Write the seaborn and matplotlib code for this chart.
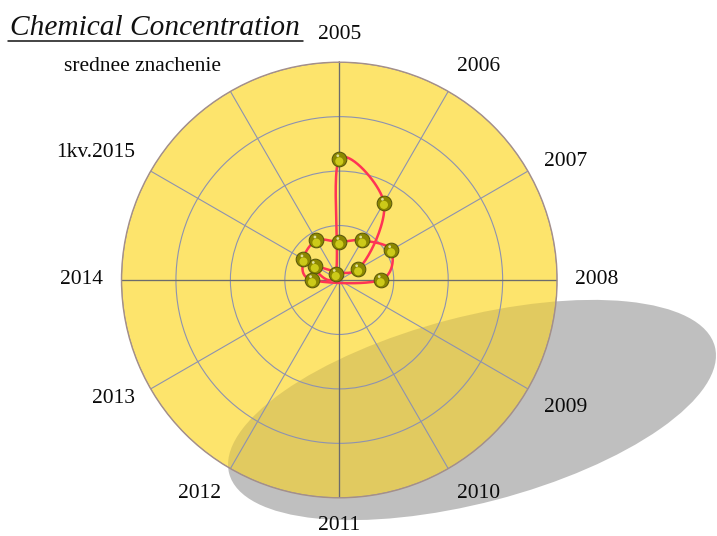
import numpy as np
import pandas as pd
import matplotlib
matplotlib.use("Agg")
import matplotlib.pyplot as plt
import matplotlib.transforms as mtransforms
from matplotlib.patches import Ellipse
from matplotlib.lines import Line2D
import seaborn as sns

# ---------------- data ----------------
categories = ["2005", "2006", "2007", "2008", "2009", "2010", "2011",
              "2012", "2013", "2014", "1kv.2015", "srednee znachenie"]
nan = np.nan
series_a = [111, 82, 20, nan, nan, nan, nan, nan, nan, nan, 26, 6.5]
series_b = [35, 42, 55, 38, nan, nan, nan, nan, nan, 25, 38, 42]
ring_values = [50, 100, 150, 200]
r_max = 200
title_text = "Chemical Concentration"

# ---------------- style ----------------
sns.set_style("white")
plt.rcParams["font.family"] = ["Liberation Serif", "DejaVu Serif"]

W, H = 717, 536
fig = plt.figure(figsize=(W / 100, H / 100), dpi=100)

# background axes (pixel space, y up) for the cast shadow
ax_bg = fig.add_axes([0, 0, 1, 1], zorder=-5)
ax_bg.set_xlim(0, W)
ax_bg.set_ylim(0, H)
ax_bg.axis("off")
shadow_center = (472, H - 410)
shadow_w, shadow_h, shadow_ang = 502, 186, 14.65
ax_bg.add_patch(Ellipse(shadow_center, shadow_w, shadow_h, angle=shadow_ang,
                        facecolor="#bfbfbf", edgecolor="none"))

# polar axes
cx, cy, R = 339.3, 280.0, 217.8
ax = fig.add_axes([(cx - R) / W, (H - cy - R) / H, 2 * R / W, 2 * R / H],
                  projection="polar")
ax.set_theta_zero_location("N")
ax.set_theta_direction(-1)
ax.set_facecolor("#fde46c")
n = len(categories)
angles = np.arange(n) * 2 * np.pi / n
ax.set_xticks(angles)
ax.set_xticklabels([])
ax.set_yticks(ring_values)
ax.set_yticklabels([])
ax.set_ylim(0, r_max)
ax.grid(True, color="#8d92b0", linewidth=0.8)
ax.set_axisbelow(True)
ax.spines["polar"].set_color("#a48f8a")
ax.spines["polar"].set_linewidth(1.0)
for a in angles[::3]:
    ax.axvline(a, color="#6c6c6c", linewidth=0.9, zorder=1)

# shadow overlay on the disc (clipped to the disc)
overlay = Ellipse(shadow_center, shadow_w, shadow_h, angle=shadow_ang,
                  facecolor="black", alpha=0.11, edgecolor="none",
                  transform=ax_bg.transData, zorder=0.3)
ax.add_artist(overlay)


def closed_catmull_rom(theta, r, steps=40):
    x = r * np.sin(theta)
    y = r * np.cos(theta)
    P = np.column_stack([x, y])
    m = len(P)
    out = []
    t = np.linspace(0, 1, steps, endpoint=False)[:, None]
    for i in range(m):
        p0, p1, p2, p3 = P[i - 1], P[i], P[(i + 1) % m], P[(i + 2) % m]
        seg = 0.5 * ((2 * p1) + (-p0 + p2) * t +
                     (2 * p0 - 5 * p1 + 4 * p2 - p3) * t ** 2 +
                     (-p0 + 3 * p1 - 3 * p2 + p3) * t ** 3)
        out.append(seg)
    out.append(P[:1])
    C = np.vstack(out)
    return np.arctan2(C[:, 0], C[:, 1]), np.hypot(C[:, 0], C[:, 1])


frames = []
for name, vals in (("A", series_a), ("B", series_b)):
    df = pd.DataFrame({"category": categories, "theta": angles,
                       "value": vals, "series": name}).dropna()
    frames.append(df)
    th, rr = closed_catmull_rom(df["theta"].to_numpy(), df["value"].to_numpy())
    ax.plot(th, rr, color="#ff3355", linewidth=1.8, zorder=3,
            solid_joinstyle="round")

data = pd.concat(frames, ignore_index=True)
sns.scatterplot(data=data, x="theta", y="value", ax=ax, s=112,
                color="#8c8800", edgecolor="#55530a", linewidth=0.7,
                legend=False, zorder=4, clip_on=False)
hl = mtransforms.offset_copy(ax.transData, fig=fig, x=0, y=-2.2, units="dots")
ax.scatter(data["theta"], data["value"], s=34, color="#d8d61e",
           edgecolor="none", alpha=0.85, transform=hl, zorder=5)
hl2 = mtransforms.offset_copy(ax.transData, fig=fig, x=-1.5, y=3.4, units="dots")
ax.scatter(data["theta"], data["value"], s=4, color="#f4f4c0",
           edgecolor="none", alpha=0.8, transform=hl2, zorder=6)
ax.set_xlabel("")
ax.set_ylabel("")

# category labels
label_r = r_max * 236 / R
va_override = {2: "center", 8: "center"}
for i, (lab, a) in enumerate(zip(categories, angles)):
    s, c = np.sin(a), np.cos(a)
    ha = "left" if s > 0.1 else ("right" if s < -0.1 else "center")
    va = "bottom" if c > 0.1 else ("top" if c < -0.1 else "center")
    va = va_override.get(i, va)
    ax.text(a, label_r, lab, ha=ha, va=va, fontsize=15.5, color="#0a0a0a",
            clip_on=False)

# title with underline
t = fig.text(10 / W, (H - 35) / H, title_text, fontsize=21.2, style="italic",
             ha="left", va="baseline", color="#111111")
fig.canvas.draw()
bb = t.get_window_extent(fig.canvas.get_renderer())
y_ul = H - 41
fig.add_artist(Line2D([(bb.x0 - 2) / W, (bb.x1 + 3) / W], [y_ul / H, y_ul / H],
                      transform=fig.transFigure, color="#111111", linewidth=1.1))

fig.savefig("out.png", dpi=100)
